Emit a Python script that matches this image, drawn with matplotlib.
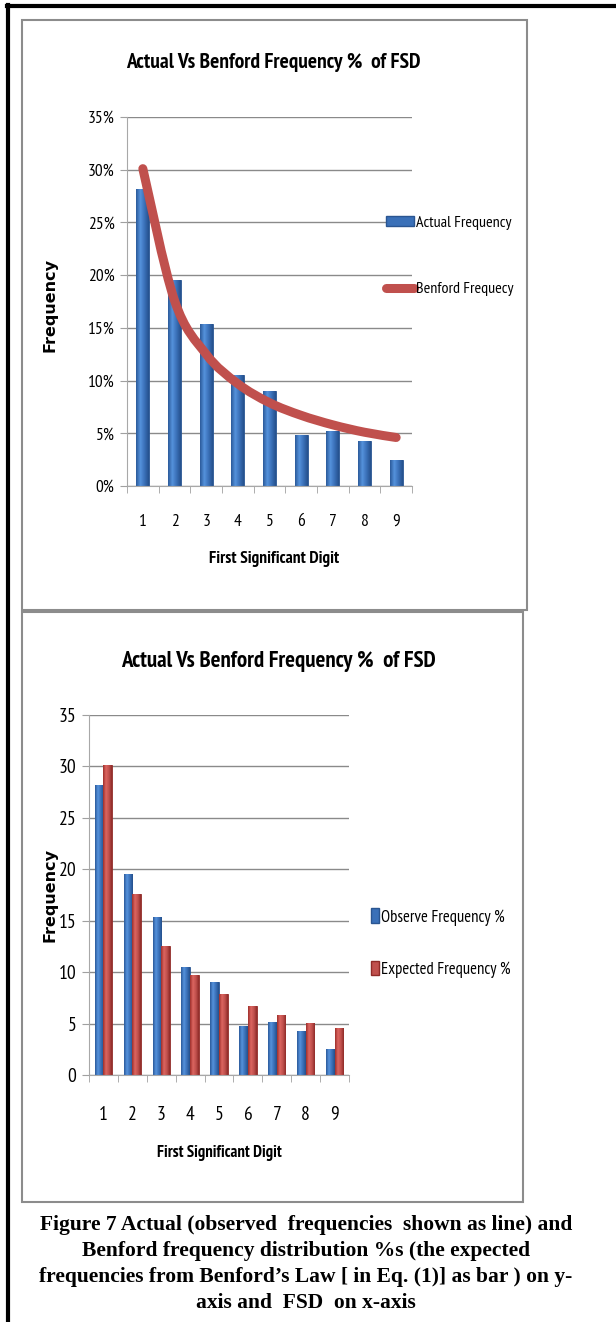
import numpy as np
import matplotlib
matplotlib.use("Agg")
import matplotlib.pyplot as plt
from matplotlib.patches import Rectangle, PathPatch
from matplotlib.path import Path
from matplotlib.lines import Line2D
from matplotlib.colors import LinearSegmentedColormap

# data
digits = [1, 2, 3, 4, 5, 6, 7, 8, 9]
actual_pct = [28.2, 19.5, 15.4, 10.5, 9.0, 4.8, 5.2, 4.3, 2.5]
benford_pct = [30.1, 17.6, 12.5, 9.7, 7.9, 6.7, 5.8, 5.1, 4.6]
title = "Actual Vs Benford Frequency %  of FSD"
caption = ["Figure 7 Actual (observed  frequencies  shown as line) and",
           "Benford frequency distribution %s (the expected",
           "frequencies from Benford\u2019s Law [ in Eq. (1)] as bar ) on y-",
           "axis and  FSD  on x-axis"]

W, H = 616, 1322
plt.rcParams["font.family"] = ["PT Sans Narrow", "Carlito", "DejaVu Sans"]

fig = plt.figure(figsize=(W / 100, H / 100), dpi=100)


def px_axes(x0, y0, x1, y1):
    # axes from pixel box (top-left origin)
    return fig.add_axes([x0 / W, 1 - y1 / H, (x1 - x0) / W, (y1 - y0) / H])


def fx(x):
    return x / W


def fy(y):
    return 1 - y / H


blue_map = LinearSegmentedColormap.from_list("b", ["#2b5a9a", "#5592dc", "#3a70b8", "#24508c"])
red_map = LinearSegmentedColormap.from_list("r", ["#9e2f2c", "#dc6560", "#c0504d", "#8f2b28"])


def shade_bars(ax, bars, cmap):
    grad = np.linspace(0, 1, 64).reshape(1, -1)
    for b in bars:
        x, y = b.get_x(), b.get_y()
        w, h = b.get_width(), b.get_height()
        im = ax.imshow(grad, cmap=cmap, aspect="auto", extent=(x, x + w, y, y + h),
                       zorder=b.get_zorder() + 0.1)
        im.set_clip_path(b)


def smooth_line(ax, xs, ys, **kw):
    # Catmull-Rom style cubic bezier through the points, like Excel's smoothed line
    xs, ys = np.asarray(xs, float), np.asarray(ys, float)
    verts = [(xs[0], ys[0])]
    codes = [Path.MOVETO]
    n = len(xs)
    for i in range(n - 1):
        p0 = (xs[max(i - 1, 0)], ys[max(i - 1, 0)])
        p1 = (xs[i], ys[i])
        p2 = (xs[i + 1], ys[i + 1])
        p3 = (xs[min(i + 2, n - 1)], ys[min(i + 2, n - 1)])
        c1 = (p1[0] + (p2[0] - p0[0]) / 6, p1[1] + (p2[1] - p0[1]) / 6)
        c2 = (p2[0] - (p3[0] - p1[0]) / 6, p2[1] - (p3[1] - p1[1]) / 6)
        verts += [c1, c2, p2]
        codes += [Path.CURVE4] * 3
    ax.add_patch(PathPatch(Path(verts, codes), fill=False, **kw))


# outer page border (left and top)
fig.add_artist(Line2D([fx(8), fx(8)], [fy(5), 0], color="black", lw=3))
fig.add_artist(Line2D([fx(7), 1], [fy(6), fy(6)], color="black", lw=3))

# chart frames
fig.add_artist(Rectangle((fx(22), fy(610)), fx(527) - fx(22), fy(20) - fy(610),
                         fill=False, edgecolor="#8c8c8c", lw=1.5))
fig.add_artist(Rectangle((fx(22), fy(1202)), fx(523) - fx(22), fy(612) - fy(1202),
                         fill=False, edgecolor="#8c8c8c", lw=1.5))


def style_axes(ax, pad, size):
    ax.set_xlim(0.5, 9.5)
    ax.set_xticks(digits)
    ax.set_xticks(np.arange(0.5, 10, 1), minor=True)
    ax.tick_params(axis="x", which="major", length=0, pad=pad, labelsize=size)
    ax.tick_params(axis="x", which="minor", length=5, color="#a0a0a0")
    ax.tick_params(axis="y", length=5, color="#a0a0a0", labelsize=size, pad=4)
    ax.grid(axis="y", color="#8a8a8a", lw=1)
    ax.set_axisbelow(True)
    for s in ["top", "right"]:
        ax.spines[s].set_visible(False)
    for s in ["left", "bottom"]:
        ax.spines[s].set_color("#a8a8a8")


# ---- chart 1: actual bars + Benford line ----
ax1 = px_axes(127, 117, 412, 486)
bars1 = ax1.bar(digits, np.array(actual_pct) / 100, width=0.41, color="#3a70b8",
                edgecolor="#2a5591", lw=0.6, zorder=2)
shade_bars(ax1, bars1, blue_map)
smooth_line(ax1, digits, np.array(benford_pct) / 100, edgecolor="#c0504d", lw=6.5,
            capstyle="round", joinstyle="round", zorder=4)
style_axes(ax1, 20, 12.5)
ax1.set_ylim(0, 0.35)
ax1.set_yticks(np.arange(0, 0.36, 0.05))
ax1.set_yticklabels([f"{int(round(v * 100))}%" for v in np.arange(0, 0.36, 0.05)])
ax1.set_xlim(0.5, 9.5)

fig.text(fx(273), fy(62), title, ha="center", va="center", fontsize=15.5, fontweight="bold")
fig.text(fx(50), fy(305), "Frequency", rotation=90, ha="center", va="center",
         fontsize=11.5, fontweight="bold", family="DejaVu Sans")
fig.text(fx(274), fy(559), "First Significant Digit", ha="center", va="center",
         fontsize=12.5, fontweight="bold")

h1 = [Rectangle((0, 0), 1, 1, facecolor="#3a70b8", edgecolor="#2a5591"),
      Line2D([], [], color="#c0504d", lw=6.5, solid_capstyle="round")]
fig.legend(h1, ["Actual Frequency", "Benford Frequecy"], loc="center left",
           bbox_to_anchor=(fx(372), fy(256)), frameon=False, fontsize=11.5,
           handlelength=1.7, handleheight=0.5, handletextpad=0.15, labelspacing=3.3)

# ---- chart 2: observed vs expected bars ----
ax2 = px_axes(89, 715, 349, 1075)
x = np.array(digits)
bw = 0.3
bars_o = ax2.bar(x - bw / 2, actual_pct, width=bw, color="#3a70b8",
                 edgecolor="#2a5591", lw=0.6, zorder=2)
bars_e = ax2.bar(x + bw / 2, benford_pct, width=bw, color="#c0504d",
                 edgecolor="#8f2b28", lw=0.6, zorder=2)
shade_bars(ax2, bars_o, blue_map)
shade_bars(ax2, bars_e, red_map)
style_axes(ax2, 22, 14)
ax2.set_ylim(0, 35)
ax2.set_yticks(range(0, 36, 5))
ax2.set_xlim(0.5, 9.5)

fig.text(fx(278), fy(662), title, ha="center", va="center", fontsize=16.5, fontweight="bold")
fig.text(fx(50), fy(895), "Frequency", rotation=90, ha="center", va="center",
         fontsize=11.5, fontweight="bold", family="DejaVu Sans")
fig.text(fx(219), fy(1153), "First Significant Digit", ha="center", va="center",
         fontsize=12, fontweight="bold")

h2 = [Rectangle((0, 0), 1, 1, facecolor="#3a70b8", edgecolor="#2a5591"),
      Rectangle((0, 0), 1, 1, facecolor="#c0504d", edgecolor="#8f2b28")]
fig.legend(h2, ["Observe Frequency %", "Expected Frequency %"], loc="center left",
           bbox_to_anchor=(fx(356), fy(943)), frameon=False, fontsize=12,
           handlelength=0.45, handleheight=1.0, handletextpad=0.15, labelspacing=2.1)

# ---- caption ----
for i, line in enumerate(caption):
    fig.text(fx(306), fy(1225 + 26 * i), line, ha="center", va="center",
             fontsize=15.5, fontweight="bold", family=["Liberation Serif", "DejaVu Serif"])

fig.savefig("out.png", dpi=100)
